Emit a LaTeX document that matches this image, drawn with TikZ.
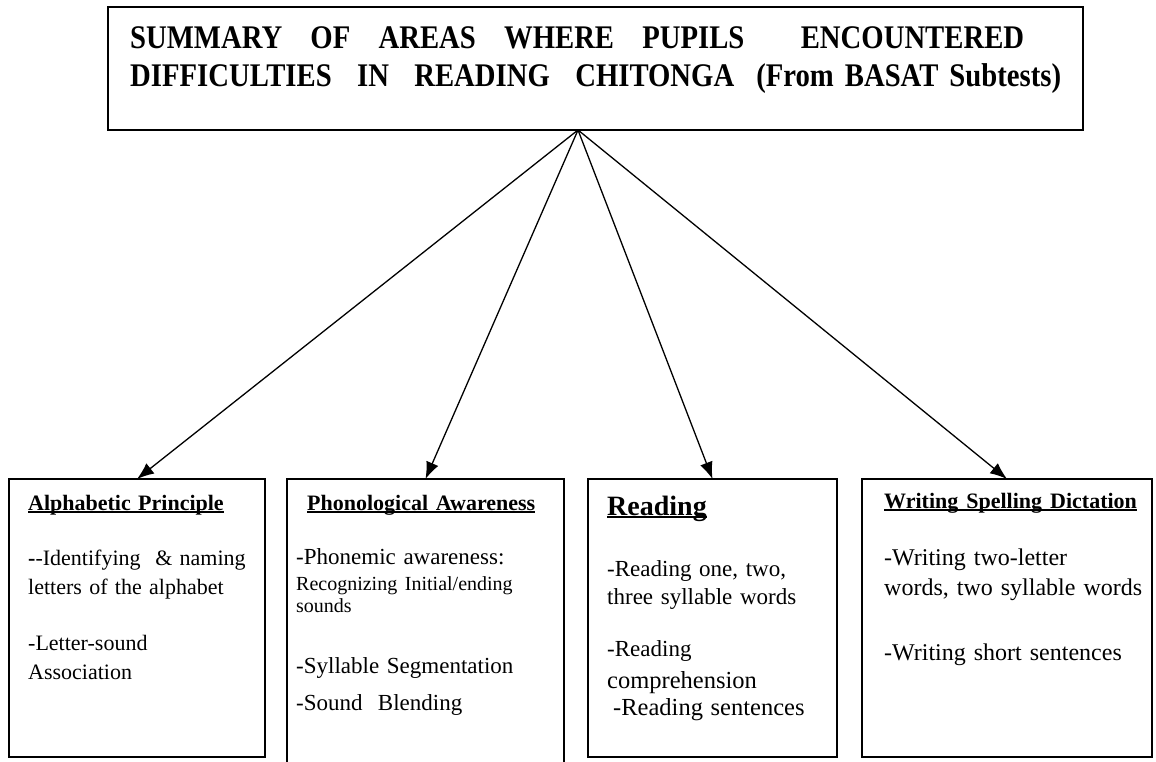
\documentclass[tikz,border=0pt]{standalone}
\usepackage{fontspec}
\setmainfont{Liberation Serif}
\newfontfamily\estrecha[FakeStretch=0.87]{Liberation Serif}
\usetikzlibrary{arrows.meta}
\newcommand{\subrayado}[1]{\sbox0{#1}\rlap{\rule[-2.5pt]{\wd0}{1.2pt}}\usebox0}

\begin{document}
\begin{tikzpicture}[x=1pt,y=-1pt,>={Latex[length=17pt,width=13pt]},
  caja/.style={draw,line width=1.5pt,anchor=north west,inner sep=0pt,outer sep=0pt},
  texto/.style={anchor=base west,inner sep=0pt,align=left,text width=265pt,
    font=\fontsize{23}{29}\selectfont}]
  \useasboundingbox (0,0) rectangle (1156,761);
  \node[caja,line width=2pt,minimum width=975pt,minimum height=123pt] (titulo) at (108,7) {};
  \node[texto,text width=931pt,font=\estrecha\bfseries\fontsize{33}{38}\selectfont]
    (titulo-txt) at (130,48)
    {\makebox[894pt][l]{SUMMARY\hfill OF\hfill AREAS\hfill WHERE\hfill PUPILS\hfill\hfill ENCOUNTERED}\\
     \makebox[931pt][l]{DIFFICULTIES\hfill IN\hfill READING\hfill CHITONGA\ \ (From BASAT Subtests)}};
  \node[caja,minimum width=256pt,minimum height=278pt] (alfabeto) at (9,479) {};
  \node[caja,minimum width=277pt,minimum height=300pt] (fonologia) at (287,479) {};
  \node[caja,minimum width=249pt,minimum height=278pt] (lectura) at (588,479) {};
  \node[caja,minimum width=290pt,minimum height=278pt] (escritura) at (862,479) {};
  \node[texto,font=\fontsize{22}{29}\selectfont] (alfabeto-txt) at (28,510)
    {{\bfseries\subrayado{Alphabetic Principle}}\\[26pt]
     \textbf{-}-Identifying \ \& naming\\
     letters of the alphabet\\[27pt]
     -Letter-sound\\
     Association};
  \node[texto] (fonologia-txt) at (296,510)
    {\hspace*{11pt}{\bfseries\fontsize{22}{29}\selectfont\subrayado{Phonological Awareness}}\\[25pt]
     -Phonemic awareness:\\[-3pt]
     {\fontsize{20}{29}\selectfont Recognizing Initial/ending}\\[-7pt]
     {\fontsize{20}{29}\selectfont sounds}\\[32pt]
     -Syllable Segmentation\\[8pt]
     -Sound \ Blending};
  \node[texto] (lectura-txt) at (607,515)
    {{\bfseries\fontsize{28}{29}\selectfont\subrayado{Reading}}\\[32pt]
     -Reading one, two,\\[-1pt]
     three syllable words\\[23pt]
     -Reading\\[3pt]
     {\fontsize{24.5}{29}\selectfont comprehension}\\[-2pt]
     {\fontsize{24.5}{29}\selectfont\hspace*{6pt}-Reading sentences}};
  \node[texto,font=\fontsize{24}{29}\selectfont] (escritura-txt) at (884,508)
    {{\bfseries\fontsize{22}{29}\selectfont\subrayado{Writing Spelling Dictation}}\\[28pt]
     -Writing two-letter\\[1pt]
     words, two syllable words\\[36pt]
     -Writing short sentences};
  \coordinate (raiz) at ([xshift=-17.5pt]titulo.south);
  \foreach \destino in {alfabeto,fonologia,lectura,escritura}
    \draw[->,line width=1.3pt] (raiz) -- (\destino.north);
\end{tikzpicture}
\end{document}
